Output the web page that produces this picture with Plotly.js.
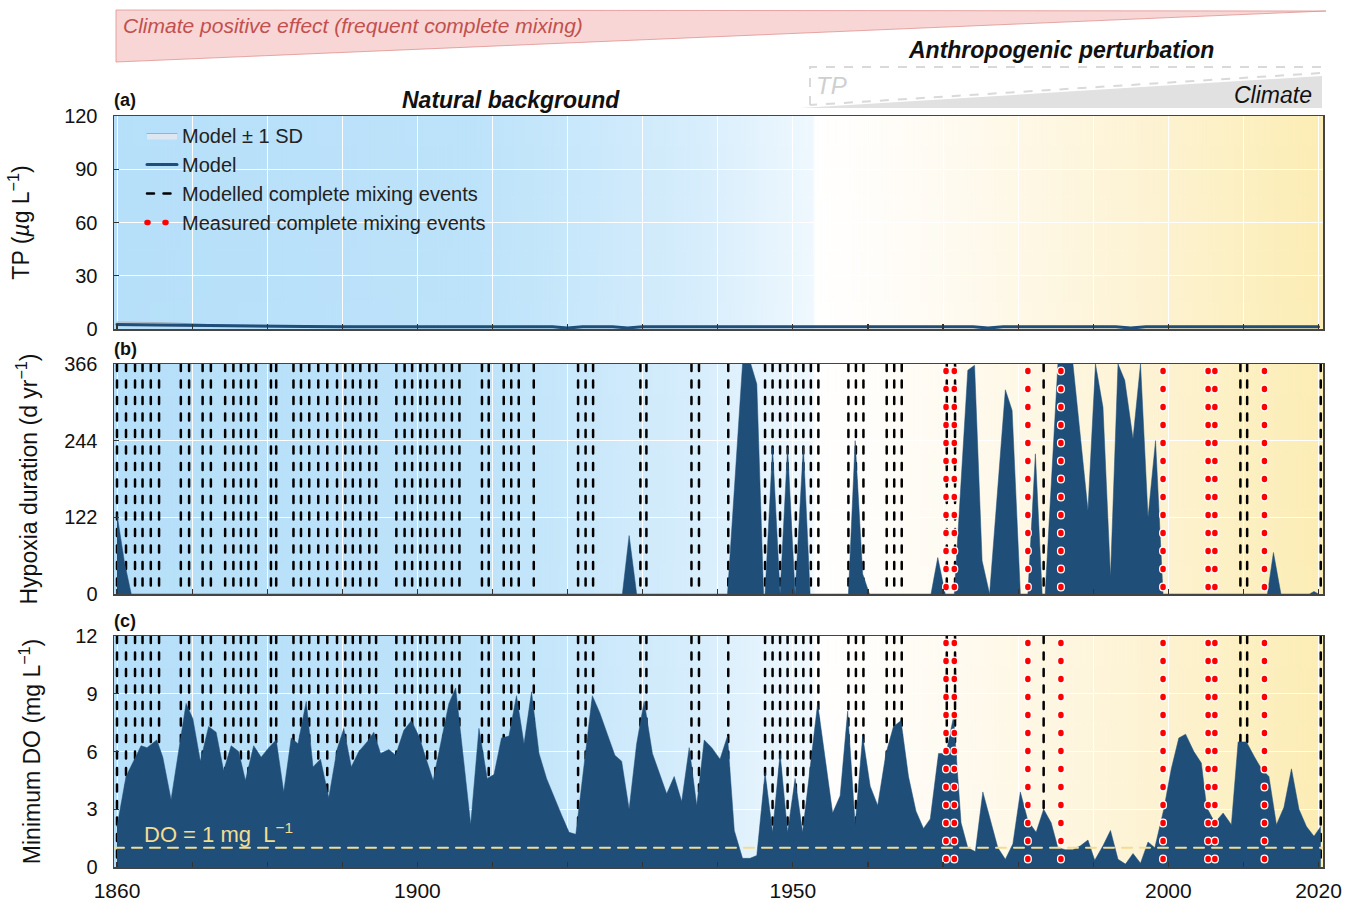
<!DOCTYPE html>
<html><head><meta charset="utf-8">
<script src="https://cdn.plot.ly/plotly-3.0.1.min.js"></script>
<style>
html,body{margin:0;padding:0;background:#fff;}
#chart{width:1349px;height:903px;}
.scatterlayer path.js-line, .legend path.js-line{stroke-linecap:round;}
</style>
</head><body><div id="chart"></div>
<script>
// ---------------- DATA ----------------
// Panel (a): modelled total phosphorus (ug/L) with +/- 1 SD band
const tpYear  = [1860,1862,1864,1866,1868,1870,1873,1876,1880,1885,1890,1900,1910,1918,1920,1922,1926,1928,1930,1940,1950,1960,1970,1974,1976,1978,1990,1993,1995,1997,2005,2012,2020];
const tpModel = [2.6,2.5,2.4,2.2,2.0,1.8,1.6,1.5,1.4,1.4,1.3,1.3,1.3,1.3,0.5,1.3,1.3,0.6,1.3,1.3,1.3,1.3,1.3,1.2,0.6,1.2,1.3,1.2,0.6,1.2,1.3,1.3,1.3];
const tpUpper = [3.9,3.9,3.8,3.6,3.3,2.8,2.3,2.0,1.8,1.7,1.6,1.5,1.5,1.5,0.7,1.5,1.5,0.8,1.5,1.5,1.5,1.5,1.5,1.4,0.8,1.4,1.5,1.4,0.8,1.4,1.5,1.5,1.5];
const tpLower = [1.9,1.9,1.8,1.7,1.6,1.4,1.3,1.2,1.1,1.1,1.1,1.1,1.1,1.1,0.3,1.1,1.1,0.4,1.1,1.1,1.1,1.1,1.1,1.0,0.4,1.0,1.1,1.0,0.4,1.0,1.1,1.1,1.1];

// Panel (b): hypoxia duration (d/yr)
const hypYear = [1860.0,1861.0,1861.9,1927.3,1928.2,1929.2,1941.3,1943.3,1944.4,1945.2,1946.1,1946.3,1947.3,1948.3,1949.3,1950.3,1951.4,1952.3,1957.4,1958.3,1959.3,1960.2,1968.4,1969.3,1970.3,1971.5,1973.3,1974.2,1975.2,1976.2,1978.3,1979.2,1980.3,1981.3,1982.3,1983.2,1983.6,1985.3,1987.3,1989.3,1990.3,1991.3,1992.3,1993.3,1994.2,1995.3,1996.3,1997.3,1998.3,1999.3,2013.2,2014.0,2015.0,2018.8,2019.4,2020.0];
const hypDays = [127,50,0,0,93,0,0,366,366,334,0,0,233,0,233,0,235,0,0,244,32,0,0,58,0,0,356,364,53,0,325,292,0,0,223,0,0,366,366,133,366,297,27,366,340,247,366,122,244,0,0,66,0,0,4,0];

// Panel (c): minimum dissolved oxygen (mg/L)
const doYear = [1860.0,1861.2,1862.2,1863.2,1864.0,1865.3,1866.1,1867.2,1869.2,1870.1,1871.1,1872.2,1873.2,1874.2,1875.2,1876.2,1877.1,1878.2,1879.2,1880.2,1881.2,1882.2,1883.2,1884.1,1885.2,1886.1,1887.1,1888.2,1889.3,1890.2,1891.2,1892.2,1893.3,1894.2,1895.1,1896.2,1897.1,1898.2,1899.2,1900.2,1901.1,1902.1,1904.2,1905.1,1907.1,1908.2,1909.3,1910.2,1911.2,1912.2,1913.2,1914.2,1915.2,1916.2,1917.2,1918.2,1919.2,1920.2,1921.1,1923.3,1924.3,1925.3,1926.3,1927.2,1928.2,1929.2,1930.2,1931.3,1932.2,1933.2,1934.2,1935.2,1936.2,1937.2,1938.2,1939.2,1940.3,1941.3,1942.2,1943.3,1944.3,1945.2,1946.3,1947.3,1948.3,1949.3,1950.3,1951.3,1953.3,1954.3,1955.3,1956.3,1957.3,1958.3,1959.3,1960.3,1961.3,1962.4,1963.4,1964.4,1965.4,1966.4,1967.4,1968.3,1969.4,1970.4,1971.4,1972.4,1973.3,1974.3,1975.3,1977.3,1978.3,1979.3,1980.3,1981.3,1982.4,1983.4,1984.4,1985.3,1986.3,1987.3,1988.3,1989.3,1990.2,1991.3,1992.3,1993.3,1994.3,1995.3,1996.3,1997.3,1998.2,1999.4,2000.4,2001.4,2002.3,2003.4,2004.4,2005.1,2006.2,2007.3,2008.4,2009.3,2010.4,2011.5,2012.4,2013.4,2014.4,2015.4,2016.4,2017.4,2018.4,2019.4,2020.3];
const doMin = [2.1,4.7,5.5,6.3,6.2,6.6,5.7,3.5,8.5,7.7,5.5,7.3,7.0,5.0,6.3,6.0,4.5,6.3,5.7,6.2,6.6,3.9,6.7,6.4,8.6,5.2,5.6,3.6,6.1,7.2,5.2,6.0,6.5,7.0,5.9,6.1,5.8,7.1,7.6,6.8,5.7,4.5,8.5,9.3,2.2,7.2,4.6,4.8,6.7,6.8,8.9,6.4,9.1,5.9,4.6,3.6,2.7,1.8,1.7,8.9,8.0,6.9,5.8,5.5,3.0,6.4,8.6,5.9,4.9,3.8,4.7,3.4,6.2,3.2,6.6,6.2,5.6,6.8,1.9,0.45,0.45,0.6,4.9,1.8,5.9,1.8,4.6,1.8,8.5,5.7,2.8,3.7,8.1,2.2,6.8,4.2,3.2,5.9,7.3,7.6,4.7,2.9,2.0,2.5,5.9,5.9,7.8,2.3,1.0,0.8,3.9,1.0,0.4,1.2,3.9,2.4,1.8,3.0,2.3,1.0,0.9,0.9,1.1,1.4,0.35,1.1,1.9,0.4,0.15,0.7,0.2,1.3,1.0,3.0,5.1,6.7,6.9,6.0,5.4,3.1,2.3,2.8,2.2,6.5,6.5,5.7,5.1,4.7,2.2,3.1,5.1,3.0,2.1,1.6,2.1];
const doThreshold = 1;

// Complete mixing events (year)
const modelledMixing = [1860.0,1861.2,1862.4,1863.4,1864.5,1865.6,1868.5,1869.6,1871.4,1872.5,1874.4,1875.5,1876.5,1877.5,1878.5,1880.5,1881.2,1883.5,1884.5,1885.6,1886.8,1888.0,1889.3,1890.4,1891.4,1892.4,1893.6,1894.5,1897.2,1898.3,1899.3,1900.4,1901.3,1902.4,1903.5,1904.6,1905.6,1908.6,1909.5,1911.5,1912.5,1913.5,1915.5,1921.4,1922.4,1923.4,1929.7,1930.5,1936.5,1937.5,1941.4,1946.3,1947.3,1948.3,1949.3,1950.4,1951.4,1952.4,1953.4,1957.4,1958.4,1959.4,1962.5,1963.5,1964.5,1970.5,1971.6,1983.4,2009.6,2010.5,2020.3];
const measuredMixing = [1970.4,1971.5,1981.3,1985.7,1999.3,2005.3,2006.2,2012.8];

// Axes
const xRange = [1859.6, 2020.6];
const xLabelYears = [1860,1900,1950,2000,2020];
const tpTicks = [0,30,60,90,120];
const hypTicks = [0,122,244,366];
const doTicks = [0,3,6,9,12];

// ---------------- GEOMETRY / STYLE ----------------
const G = {L:114, R:1323, T:116, B:867, W:1349, H:903};
const pw = G.R - G.L, ph = G.B - G.T;
const fx = p => (p - G.L) / pw;
const fy = p => (G.B - p) / ph;
const P = {a:[116,329], b:[364,594], c:[636,867]};
const FONT = 'Liberation Sans, Arial, sans-serif';
const NAVY = '#1f4e79';

function vlines(years, yTop, yBot){
  const x=[], y=[];
  years.forEach(v=>{ x.push(v,v,null); y.push(yTop,yBot,null); });
  return {x,y};
}
function leadUnits(panel, top, px){ return px * top / (P[panel][1]-P[panel][0]); }

function gradientURL(){
  const c=document.createElement('canvas'); c.width=1209; c.height=4;
  const g=c.getContext('2d');
  const gr=g.createLinearGradient(0,0,1209,0);
  gr.addColorStop(0,'#b6dff9');
  gr.addColorStop(0.30,'#bde3fa');
  gr.addColorStop(0.48,'#d6edfc');
  gr.addColorStop(0.578,'#eff8fe');
  gr.addColorStop(0.580,'#ffffff');
  gr.addColorStop(0.66,'#fffcf6');
  gr.addColorStop(0.85,'#fdf3d4');
  gr.addColorStop(1,'#fcedb4');
  g.fillStyle=gr; g.fillRect(0,0,1209,4);
  return c.toDataURL();
}
const bg = gradientURL();

const decades=[]; for(let y=1860;y<=2020;y+=10) decades.push(y);

const mixB = vlines(modelledMixing, 366, 0);
const mixC = vlines(modelledMixing, 12, 0);
const leadB = leadUnits('b',366,11.5), leadC = leadUnits('c',12,11.5);
const measB = vlines(measuredMixing, 366+leadB, 0);
const measC = vlines(measuredMixing, 12+leadC, 0);

const blackDash = {color:'#000', width:2.5, dash:'7px,9.5px'};
const redDot = {color:'#ff0000', width:5.5, dash:'1px,17px'};
const halo = {color:'#ffffff', width:8, dash:'1px,17px'};

const traces = [
  // panel a
  {x:tpYear, y:tpUpper, xaxis:'x', yaxis:'y', mode:'lines', line:{color:'#95a3b3', width:0.8}, showlegend:false, hoverinfo:'skip'},
  {x:tpYear, y:tpLower, xaxis:'x', yaxis:'y', mode:'lines', fill:'tonexty', fillcolor:'#dde7f2', line:{color:'#95a3b3', width:0.8}, name:'Model ± 1 SD', legendrank:1},
  {x:tpYear, y:tpModel, xaxis:'x', yaxis:'y', mode:'lines', line:{color:NAVY, width:3}, name:'Model', legendrank:2},
  // panel b
  {x:mixB.x, y:mixB.y, xaxis:'x2', yaxis:'y2', mode:'lines', line:blackDash, name:'Modelled complete mixing events', legendrank:3, legendgroup:'mod'},
  {x:hypYear, y:hypDays, xaxis:'x2', yaxis:'y2', mode:'lines', fill:'tozeroy', fillcolor:NAVY, line:{color:NAVY, width:0.5}, showlegend:false},
  {x:measB.x, y:measB.y, xaxis:'x2', yaxis:'y2', mode:'lines', line:halo, showlegend:false, hoverinfo:'skip'},
  {x:measB.x, y:measB.y, xaxis:'x2', yaxis:'y2', mode:'lines', line:redDot, name:'Measured complete mixing events', legendrank:4, legendgroup:'meas'},
  // panel c
  {x:mixC.x, y:mixC.y, xaxis:'x3', yaxis:'y3', mode:'lines', line:blackDash, showlegend:false, legendgroup:'mod'},
  {x:doYear, y:doMin, xaxis:'x3', yaxis:'y3', mode:'lines', fill:'tozeroy', fillcolor:NAVY, line:{color:NAVY, width:0.5}, showlegend:false},
  {x:xRange, y:[doThreshold,doThreshold], xaxis:'x3', yaxis:'y3', mode:'lines', line:{color:'#f3dd92', width:2, dash:'10px,8px'}, showlegend:false, hoverinfo:'skip'},
  {x:measC.x, y:measC.y, xaxis:'x3', yaxis:'y3', mode:'lines', line:halo, showlegend:false, hoverinfo:'skip'},
  {x:measC.x, y:measC.y, xaxis:'x3', yaxis:'y3', mode:'lines', line:redDot, showlegend:false, legendgroup:'meas'}
];

function xAxis(anchor, labels){
  const ax = {anchor, range:xRange, tickmode:'array', tickvals:xLabelYears,
    showticklabels:labels, ticks:'inside', ticklen:5, tickwidth:1.2, tickcolor:'#333',
    ticklabelstandoff:4,
    minor:{tickmode:'array', tickvals:decades, ticks:'inside', ticklen:5, tickwidth:1.2, tickcolor:'#333',
      showgrid:true, gridcolor:'#ffffff', gridwidth:1},
    showline:true, linecolor:'#444', linewidth:1.5, mirror:true,
    showgrid:true, gridcolor:'#ffffff', gridwidth:1, zeroline:false,
    tickfont:{family:FONT, size:21, color:'#111'}};
  if(anchor!=='y3') ax.matches='x3';
  return ax;
}
function yAxis(anchor, box, range, ticks, title, standoff){
  return {anchor, domain:[fy(box[1]), fy(box[0])], range, tickmode:'array', tickvals:ticks,
    ticks:'inside', ticklen:5, tickwidth:1.2, tickcolor:'#333', ticklabelstandoff:11,
    showline:true, linecolor:'#444', linewidth:1.5, mirror:true,
    showgrid:true, gridcolor:'#ffffff', gridwidth:1, zeroline:false,
    tickfont:{family:FONT, size:20, color:'#111'},
    title:{text:title, font:{family:FONT, size:23, color:'#111'}, standoff}};
}

function bgImage(xr, yr, top){
  return {source:bg, xref:xr, yref:yr, x:xRange[0], y:top, sizex:xRange[1]-xRange[0], sizey:top,
    sizing:'stretch', xanchor:'left', yanchor:'top', layer:'below'};
}

const pxPath = pts => 'M ' + pts.map(p=>fx(p[0]).toFixed(5)+','+fy(p[1]).toFixed(5)).join(' L ') + ' Z';
const pxLine = pts => 'M ' + pts.map(p=>fx(p[0]).toFixed(5)+','+fy(p[1]).toFixed(5)).join(' L ');

const layout = {
  width:G.W, height:G.H,
  margin:{l:G.L, r:G.W-G.R, t:G.T, b:G.H-G.B, pad:0},
  paper_bgcolor:'#ffffff', plot_bgcolor:'rgba(0,0,0,0)',
  font:{family:FONT, color:'#111'},
  hovermode:false, dragmode:false,
  xaxis:xAxis('y', false), xaxis2:xAxis('y2', false), xaxis3:xAxis('y3', true),
  yaxis:yAxis('x', P.a, [0,120], tpTicks, 'TP (<i>µ</i>g L<sup>−1</sup>)', 28),
  yaxis2:yAxis('x2', P.b, [0,366], hypTicks, 'Hypoxia duration (d yr<sup>−1</sup>)', 20),
  yaxis3:yAxis('x3', P.c, [0,12], doTicks, 'Minimum DO (mg L<sup>−1</sup>)', 28),
  images:[bgImage('x','y',120), bgImage('x2','y2',366), bgImage('x3','y3',12)],
  legend:{x:fx(142), y:fy(116), xanchor:'left', yanchor:'top', bgcolor:'rgba(0,0,0,0)',
    font:{family:FONT, size:20, color:'#222'}, traceorder:'normal', itemwidth:30, tracegroupgap:0},
  shapes:[
    {type:'path', xref:'paper', yref:'paper', path:pxPath([[116,10],[1326,11],[116,62]]),
      fillcolor:'rgba(236,158,156,0.42)', line:{color:'rgba(220,135,133,0.7)', width:1}, layer:'above'},
    {type:'path', xref:'paper', yref:'paper', path:pxPath([[800,108],[1322,108],[1322,76]]),
      fillcolor:'#e1e1e1', line:{width:0}, layer:'above'},
    {type:'path', xref:'paper', yref:'paper', path:pxLine([[810,105],[810,67],[1322,67],[1322,73],[810,105]]),
      line:{color:'#d9d9d9', width:2, dash:'dash'}, layer:'above'}
  ],
  annotations:[
    {xref:'paper', yref:'paper', x:fx(121), y:fy(26), xanchor:'left', yanchor:'middle', showarrow:false,
      text:'<i>Climate positive effect (frequent complete mixing)</i>', font:{family:FONT, size:21, color:'#c2504e'}},
    {xref:'paper', yref:'paper', x:fx(1061), y:fy(50), xanchor:'center', yanchor:'middle', showarrow:false,
      text:'<b><i>Anthropogenic perturbation</i></b>', font:{family:FONT, size:23, color:'#111'}},
    {xref:'paper', yref:'paper', x:fx(814), y:fy(86), xanchor:'left', yanchor:'middle', showarrow:false,
      text:'<i>TP</i>', font:{family:FONT, size:24, color:'#cfcfcf'}},
    {xref:'paper', yref:'paper', x:fx(1314), y:fy(95), xanchor:'right', yanchor:'middle', showarrow:false,
      text:'<i>Climate</i>', font:{family:FONT, size:23, color:'#111'}},
    {xref:'paper', yref:'paper', x:fx(511), y:fy(100), xanchor:'center', yanchor:'middle', showarrow:false,
      text:'<b><i>Natural background</i></b>', font:{family:FONT, size:23, color:'#111'}},
    {xref:'paper', yref:'paper', x:fx(112), y:fy(100), xanchor:'left', yanchor:'middle', showarrow:false,
      text:'<b>(a)</b>', font:{family:FONT, size:18, color:'#111'}},
    {xref:'paper', yref:'paper', x:fx(112), y:fy(349), xanchor:'left', yanchor:'middle', showarrow:false,
      text:'<b>(b)</b>', font:{family:FONT, size:18, color:'#111'}},
    {xref:'paper', yref:'paper', x:fx(112), y:fy(621), xanchor:'left', yanchor:'middle', showarrow:false,
      text:'<b>(c)</b>', font:{family:FONT, size:18, color:'#111'}},
    {xref:'paper', yref:'y3', x:fx(142), y:doThreshold, yshift:15, xanchor:'left', yanchor:'middle', showarrow:false,
      text:'DO = 1 mg  L<sup>−1</sup>', font:{family:FONT, size:22, color:'#f3dd92'}}
  ]
};

Plotly.newPlot('chart', traces, layout, {staticPlot:true, displayModeBar:false});
</script>
</body></html>
